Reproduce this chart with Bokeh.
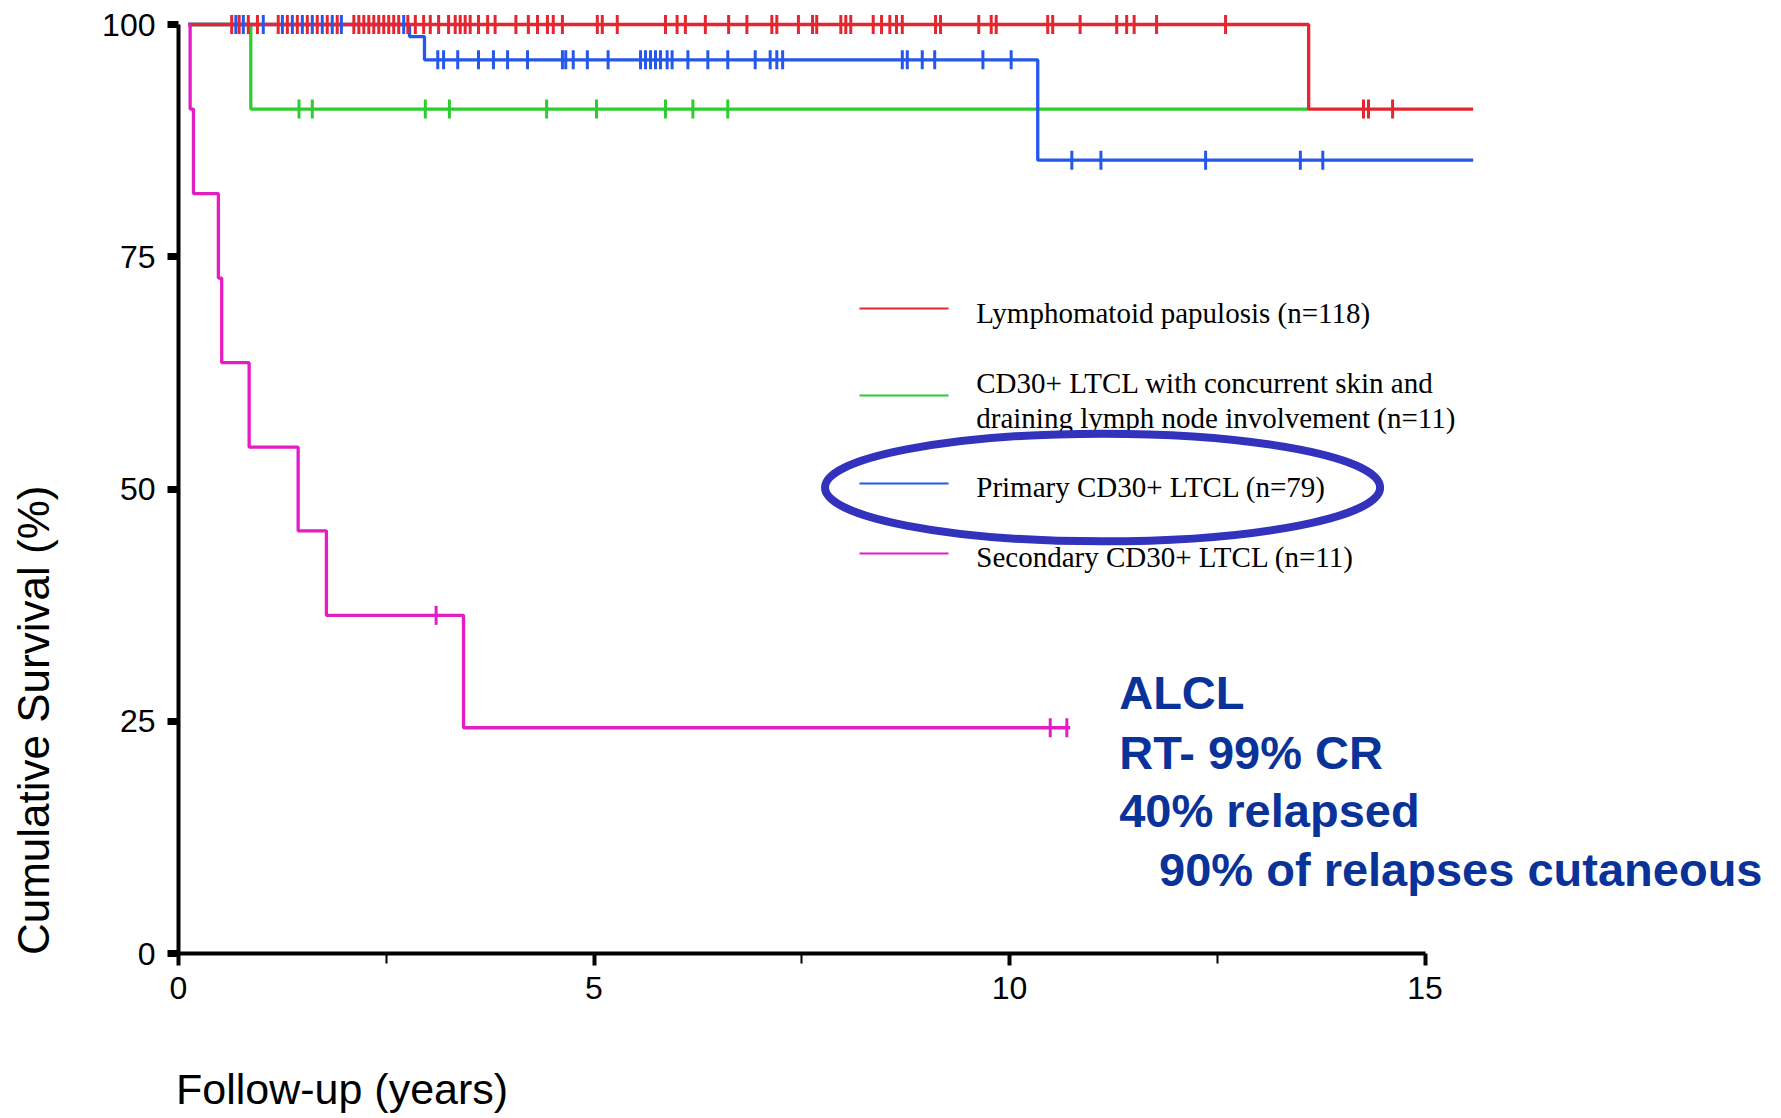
import math
from bokeh.plotting import figure
from bokeh.models import Range1d, FixedTicker, Label
from bokeh.embed import file_html
from bokeh.resources import INLINE

# ---------------- data (years / cumulative survival %) ----------------
red_times = [0.12, 13.60, 15.58]
red_surv = [100, 90.9, 90.9]
red_cens_100 = [0.64, 0.73, 0.84, 0.95, 1.20, 1.31, 1.43, 1.55, 1.67, 1.79, 1.91, 2.11, 2.17, 2.23,
                2.29, 2.35, 2.41, 2.47, 2.53, 2.59, 2.65, 2.76, 2.85, 2.95, 3.03, 3.13, 3.25, 3.33,
                3.39, 3.45, 3.51, 3.61, 3.72, 3.81, 4.06, 4.21, 4.32, 4.44, 4.51, 4.62, 5.04, 5.10,
                5.28, 5.86, 6.00, 6.10, 6.34, 6.62, 6.84, 7.14, 7.20, 7.46, 7.63, 7.68, 7.97, 8.03,
                8.09, 8.36, 8.46, 8.56, 8.64, 8.71, 9.11, 9.17, 9.63, 9.78, 9.84, 10.46, 10.52,
                10.85, 11.29, 11.41, 11.50, 11.77, 12.60]
red_cens_91 = [14.26, 14.32, 14.61]

green_times = [0.12, 0.87, 13.60]
green_surv = [100, 90.9, 90.9]
green_cens = [1.45, 1.61, 2.97, 3.26, 4.43, 5.03, 5.86, 6.19, 6.61]

blue_times = [0.12, 2.78, 2.96, 10.34, 15.58]
blue_surv = [100, 98.7, 96.2, 85.4, 85.4]
blue_cens_100 = [0.69, 0.78, 1.02, 1.25, 1.37, 1.49, 1.61, 1.73, 1.85, 1.96, 2.71]
blue_cens_96 = [3.12, 3.19, 3.36, 3.61, 3.79, 3.96, 4.20, 4.62, 4.66, 4.75, 4.92, 5.17, 5.56,
                5.62, 5.68, 5.74, 5.80, 5.88, 5.94, 6.13, 6.37, 6.61, 6.94, 7.12, 7.20, 7.27,
                8.71, 8.77, 8.95, 9.10, 9.68, 10.02]
blue_cens_85 = [10.75, 11.10, 12.36, 13.50, 13.77]

mag_times = [0.12, 0.14, 0.18, 0.48, 0.52, 0.85, 1.44, 1.78, 3.43, 10.73]
mag_surv = [100, 90.9, 81.8, 72.7, 63.6, 54.5, 45.5, 36.4, 24.3, 24.3]
mag_cens_36 = [3.10]
mag_cens_24 = [10.49, 10.69]

x_ticks = [0, 5, 10, 15]
x_minor = [2.5, 7.5, 12.5]
y_ticks = [0, 25, 50, 75, 100]

x_title = "Follow-up (years)"
y_title = "Cumulative Survival (%)"
legend_labels = ["Lymphomatoid papulosis  (n=118)",
                 "CD30+ LTCL with concurrent skin and",
                 "draining lymph node involvement (n=11)",
                 "Primary CD30+ LTCL (n=79)",
                 "Secondary CD30+ LTCL (n=11)"]
note_lines = ["ALCL", "RT- 99% CR", "40% relapsed", "90% of relapses cutaneous"]

RED = "#e52630"
GREEN = "#2fcc2f"
BLUE = "#2457ec"
MAG = "#e41cc4"
NOTE = "#0a3399"
RING = "#3232bd"

# ---------------- figure: the frame fills the page, axes float at 0 ----------------
PX_PER_YEAR = 83.1
PX_PER_PCT = 9.29
X0_PX, Y0_PX = 178, 953
W, H = 1781, 1118
p = figure(width=W, height=H,
           x_range=Range1d(-X0_PX / PX_PER_YEAR, (W - X0_PX) / PX_PER_YEAR),
           y_range=Range1d(-(H - Y0_PX) / PX_PER_PCT, Y0_PX / PX_PER_PCT),
           output_backend="svg", toolbar_location=None,
           min_border_left=0, min_border_right=0,
           min_border_top=0, min_border_bottom=0)
p.grid.visible = False
p.outline_line_color = None
p.background_fill_color = "white"
p.border_fill_color = "white"

xa = p.xaxis[0]
xa.fixed_location = 0
xa.ticker = FixedTicker(ticks=x_ticks, minor_ticks=x_minor)
xa.bounds = (0, 15)
xa.axis_line_width = 4
xa.axis_line_color = "black"
xa.major_tick_in = 0
xa.major_tick_out = 12
xa.major_tick_line_width = 4
xa.minor_tick_in = 0
xa.minor_tick_out = 10
xa.minor_tick_line_width = 2
xa.major_label_text_font = "Liberation Sans"
xa.major_label_text_font_size = "32px"
xa.major_label_text_color = "black"
xa.major_label_standoff = 11

ya = p.yaxis[0]
ya.fixed_location = 0
ya.ticker = FixedTicker(ticks=y_ticks)
ya.bounds = (0, 100)
ya.axis_line_width = 4
ya.axis_line_color = "black"
ya.major_tick_in = 0
ya.major_tick_out = 11
ya.major_tick_line_width = 7
ya.minor_tick_line_color = None
ya.major_label_text_font = "Liberation Sans"
ya.major_label_text_font_size = "32px"
ya.major_label_text_color = "black"
ya.major_label_standoff = 12

# axis titles
p.add_layout(Label(x=-0.03, y=-14.6, text=x_title,
                   text_font="Liberation Sans", text_font_size="43px", text_color="black",
                   text_align="left", text_baseline="alphabetic"))
p.add_layout(Label(x=-1.74, y=25.1, text=y_title, angle=math.pi / 2,
                   text_font="Liberation Sans", text_font_size="44px",
                   text_color="black", text_align="center", text_baseline="middle"))

# ---------------- curves ----------------
LW = 3.3
p.step(green_times, green_surv, mode="after", line_color=GREEN, line_width=LW)
p.step(blue_times, blue_surv, mode="after", line_color=BLUE, line_width=LW)
p.step(red_times, red_surv, mode="after", line_color=RED, line_width=LW)
p.step(mag_times, mag_surv, mode="after", line_color=MAG, line_width=LW)

def cens(xs, level, color):
    p.scatter(xs, [level] * len(xs), marker="dash", angle=math.pi / 2, size=19,
              line_color=color, line_width=3)

cens(green_cens, green_surv[1], GREEN)
cens(blue_cens_100, blue_surv[0], BLUE)
cens(red_cens_100, red_surv[0], RED)
cens(red_cens_91, red_surv[1], RED)
cens(blue_cens_96, blue_surv[2], BLUE)
cens(blue_cens_85, blue_surv[3], BLUE)
cens(mag_cens_36, mag_surv[7], MAG)
cens(mag_cens_24, mag_surv[8], MAG)

# ---------------- legend (drawn manually as in the figure) ----------------
leg_colors = [RED, GREEN, BLUE, MAG]
leg_line_y = [69.43, 60.06, 50.59, 43.06]
p.segment(x0=[8.195] * 4, y0=leg_line_y, x1=[9.266] * 4, y1=leg_line_y,
          line_color=leg_colors, line_width=2)
leg_text_y = [68.92, 61.38, 57.61, 50.19, 42.65]
for txt, yy in zip(legend_labels, leg_text_y):
    p.add_layout(Label(x=9.60, y=yy, text=txt, text_font="Liberation Serif",
                       text_font_size="29px", text_color="black",
                       text_baseline="alphabetic", text_align="left"))

# highlight ring
p.ellipse(x=[11.12], y=[50.16], width=[6.68], height=[11.6],
          fill_color=None, line_color=RING, line_width=8, level="overlay")

# ---------------- notes ----------------
note_x = [11.32, 11.32, 11.32, 11.80]
note_y = [28.11, 21.65, 15.41, 9.05]
for txt, xx, yy in zip(note_lines, note_x, note_y):
    p.add_layout(Label(x=xx, y=yy, text=txt, text_font="Liberation Sans",
                       text_font_style="bold", text_font_size="47px",
                       text_color=NOTE, text_baseline="alphabetic", text_align="left"))

open("out.html", "w").write(file_html(p, INLINE))
